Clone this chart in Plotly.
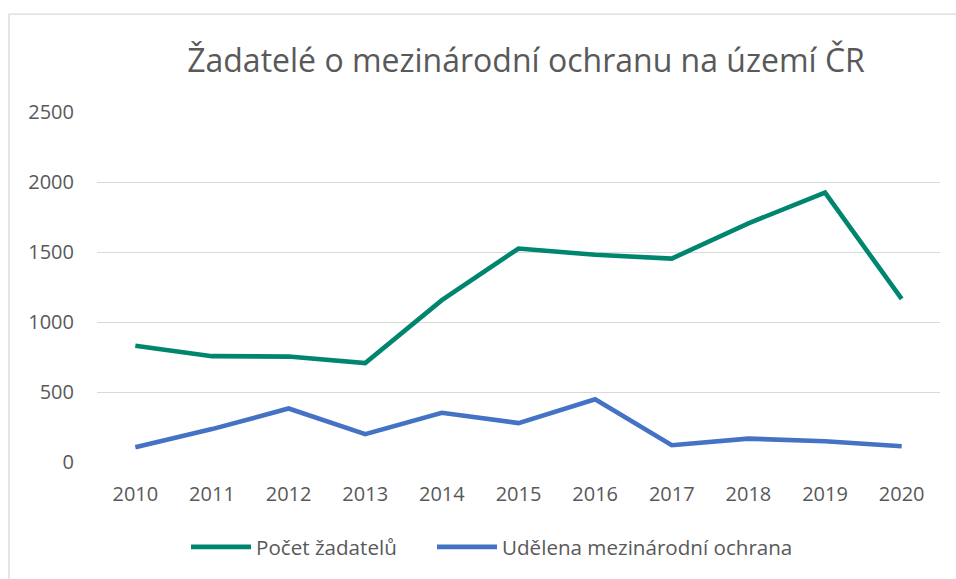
import plotly.graph_objects as go

years = ["2010", "2011", "2012", "2013", "2014", "2015", "2016", "2017", "2018", "2019", "2020"]
zadatele = [831, 756, 753, 707, 1156, 1525, 1480, 1453, 1705, 1924, 1165]
udelena = [105, 235, 382, 199, 352, 278, 448, 120, 167, 148, 113]
y_ticks = [0, 500, 1000, 1500, 2000, 2500]

title_text = "Žadatelé o mezinárodní ochranu na území ČR"
name_a = "Počet žadatelů"
name_b = "Udělena mezinárodní ochrana"

FONT = "Open Sans"
TXT = "#595959"
GRID = "#D9D9D9"

W, H = 956, 579
L, R, T, B = 97, 16, 112, 113
pw = W - L - R
ph = H - T - B

def px_x(px):
    return (px - L) / pw

def px_y(py):
    return (H - B - py) / ph

fig = go.Figure()
fig.add_trace(go.Scatter(x=years, y=zadatele, name=name_a, mode="lines",
                         line=dict(color="#00866F", width=4.6), legend="legend"))
fig.add_trace(go.Scatter(x=years, y=udelena, name=name_b, mode="lines",
                         line=dict(color="#4472C4", width=4.6), legend="legend2"))

leg_common = dict(orientation="h", xanchor="left", yanchor="middle",
                  font=dict(size=20.6, color=TXT), itemwidth=60,
                  bgcolor="rgba(0,0,0,0)")

fig.update_layout(
    width=W, height=H,
    margin=dict(l=L, r=R, t=T, b=B),
    paper_bgcolor="white", plot_bgcolor="white",
    font=dict(family=FONT, color=TXT, size=20),
    title=dict(text=title_text, font=dict(family=FONT, size=32, color=TXT),
               xref="paper", x=px_x(526), xanchor="center",
               yref="container", y=1 - 61 / H, yanchor="middle"),
    showlegend=True,
    legend=dict(x=px_x(186), y=px_y(552), **leg_common),
    legend2=dict(x=px_x(432), y=px_y(552), **leg_common),
    xaxis=dict(type="category", range=[-0.5, 10.5], showgrid=False, showline=False,
               zeroline=False, ticks="", ticklabelstandoff=18,
               tickfont=dict(size=20, color=TXT)),
    yaxis=dict(range=[0, 2500], tickvals=y_ticks, showgrid=True, gridcolor=GRID,
               gridwidth=1.3, zeroline=False, showline=False, ticks="",
               ticklabelstandoff=22, tickfont=dict(size=20, color=TXT)),
    shapes=[dict(type="rect", xref="paper", yref="paper",
                 x0=px_x(9), x1=px_x(1200), y0=px_y(800), y1=px_y(13),
                 line=dict(color=GRID, width=1.3), fillcolor="rgba(0,0,0,0)",
                 layer="below")],
)

fig.write_html("out.html", config={"displayModeBar": False},
               post_script="document.body.style.margin='0';")
